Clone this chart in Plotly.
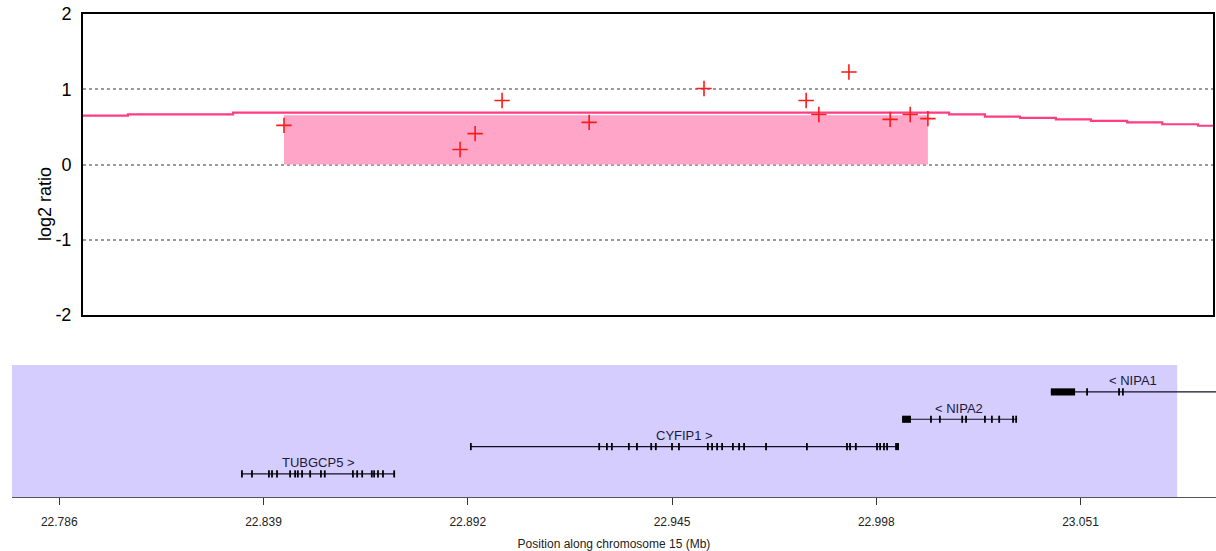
import plotly.graph_objects as go

# ---------------- data ----------------
# probe measurements (position in Mb, log2 ratio)
probe_pos = [22.8443, 22.8900, 22.8939, 22.9009, 22.9235, 22.9533,
             22.9798, 22.9831, 22.9909, 23.0016, 23.0068, 23.0114]
probe_log2 = [0.52, 0.20, 0.41, 0.85, 0.56, 1.01,
              0.85, 0.665, 1.23, 0.60, 0.665, 0.61]

# segmented (smoothed) log2 ratio, step line
seg_start = [22.770, 22.8038, 22.8311, 23.0169, 23.0262, 23.0353,
             23.0446, 23.0537, 23.0631, 23.0722, 23.0815]
seg_value = [0.65, 0.665, 0.69, 0.665, 0.635, 0.62,
             0.60, 0.58, 0.56, 0.535, 0.515]
seg_last_end = 23.10

# called aberration (filled)
call_start = 22.8443
call_end = 23.0114
call_value = 0.655

# highlighted genomic region in gene track
region_start = 22.7737
region_end = 23.0761

# genes
gene_names = ["TUBGCP5", "CYFIP1", "NIPA2", "NIPA1"]
gene_strand = ["+", "+", "-", "-"]
gene_row = [0, 1, 2, 3]
gene_start = [22.8334, 22.8928, 23.0047, 23.0433]
gene_end = [22.8729, 23.0039, 23.0343, 23.0950]
gene_exons = [
    [22.8334, 22.8360, 22.8404, 22.8412, 22.8425, 22.8459, 22.8472, 22.8479,
     22.8490, 22.8511, 22.8539, 22.8549, 22.8622, 22.8633, 22.8646, 22.8671,
     22.8677, 22.8687, 22.8700, 22.8729],
    [22.8928, 22.9261, 22.9281, 22.9294, 22.9338, 22.9359, 22.9396, 22.9408,
     22.9450, 22.9468, 22.9543, 22.9554, 22.9567, 22.9580, 22.9608, 22.9624,
     22.9637, 22.9694, 22.9800, 22.9904, 22.9912, 22.9927, 22.9982, 22.9990,
     23.0000, 23.0008],
    [23.0122, 23.0145, 23.0203, 23.0213, 23.0262, 23.0280, 23.0299, 23.0335,
     23.0343],
    [23.0527, 23.0610, 23.0620],
]
gene_blocks = [
    [],
    [(23.0029, 23.0039)],
    [(23.0047, 23.0070)],
    [(23.0433, 23.0496)],
]

x_ticks = [22.786, 22.839, 22.892, 22.945, 22.998, 23.051]
y_ticks = [-2, -1, 0, 1, 2]
y_tick_labels = ["-2", "-1", "0", "1", "2"]

# ---------------- layout constants ----------------
W, H = 1216, 551
FONT = "Liberation Sans, Arial, Helvetica, sans-serif"
top_x_range = [22.79215, 23.08538]
bot_x_range = [22.77373, 23.08616]
row_y0, row_dy = 0.175, 0.207
exon_h = 0.027
label_dy = 0.085

fig = go.Figure()

# filled call
fig.add_trace(go.Scatter(
    x=[call_start, call_start, call_end, call_end],
    y=[0, call_value, call_value, 0],
    fill="toself", fillcolor="#ffa6c8", line=dict(width=0),
    mode="lines", hoverinfo="skip", showlegend=False,
    xaxis="x", yaxis="y"))

# segment step line
fig.add_trace(go.Scatter(
    x=seg_start + [seg_last_end], y=seg_value + [seg_value[-1]],
    mode="lines", line=dict(color="#ff3d84", width=2.2, shape="hv"),
    showlegend=False, xaxis="x", yaxis="y"))

# probes
fig.add_trace(go.Scatter(
    x=probe_pos, y=probe_log2, mode="markers",
    marker=dict(symbol="cross-thin", size=11,
                line=dict(color="#ff1a1a", width=1.6)),
    showlegend=False, xaxis="x", yaxis="y"))

shapes = []
annotations = []

# region background in gene track
shapes.append(dict(type="rect", xref="x2", yref="y2",
                   x0=region_start, x1=region_end, y0=0, y1=1,
                   fillcolor="#d5cdfd", line=dict(width=0), layer="below"))

# genes
for i, name in enumerate(gene_names):
    yrow = row_y0 + gene_row[i] * row_dy
    fig.add_trace(go.Scatter(
        x=[gene_start[i], gene_end[i]], y=[yrow, yrow], mode="lines",
        line=dict(color="#111122", width=1.2), showlegend=False,
        xaxis="x2", yaxis="y2", hoverinfo="skip"))
    ex, ey = [], []
    for e in gene_exons[i]:
        ex += [e, e, None]
        ey += [yrow - exon_h, yrow + exon_h, None]
    fig.add_trace(go.Scatter(
        x=ex, y=ey, mode="lines", line=dict(color="#000000", width=1.8),
        showlegend=False, xaxis="x2", yaxis="y2", hoverinfo="skip"))
    for b0, b1 in gene_blocks[i]:
        shapes.append(dict(type="rect", xref="x2", yref="y2",
                           x0=b0, x1=b1, y0=yrow - exon_h, y1=yrow + exon_h,
                           fillcolor="#000000", line=dict(width=0)))
    vis_end = min(gene_end[i], bot_x_range[1])
    label = f"{name} >" if gene_strand[i] == "+" else f"< {name}"
    annotations.append(dict(
        x=(gene_start[i] + vis_end) / 2, y=yrow + label_dy,
        xref="x2", yref="y2", text=label, showarrow=False,
        font=dict(family=FONT, size=13, color="#1a1a3a")))

# y axis title
annotations.append(dict(
    x=33 / W, y=1 - 165 / H, xref="paper", yref="paper",
    text="log2 ratio", textangle=-90, showarrow=False,
    font=dict(family=FONT, size=18, color="#000000")))

fig.update_layout(
    width=W, height=H,
    margin=dict(l=0, r=0, t=0, b=0, autoexpand=False),
    paper_bgcolor="white", plot_bgcolor="white",
    font=dict(family=FONT),
    shapes=shapes, annotations=annotations,
    xaxis=dict(domain=[83 / W, 1213 / W], range=top_x_range,
               anchor="y", showticklabels=False, ticks="", automargin=False,
               showgrid=False, zeroline=False,
               showline=True, mirror=True, linewidth=2, linecolor="black"),
    yaxis=dict(domain=[1 - 315 / H, 1 - 14 / H], range=[-2, 2],
               anchor="x", tickmode="array", tickvals=y_ticks,
               ticktext=y_tick_labels, ticks="", ticklabelstandoff=6,
               automargin=False,
               tickfont=dict(family=FONT, size=18, color="black"),
               showgrid=True, gridcolor="#9a9a9a", gridwidth=1.5,
               griddash="dot", zeroline=False,
               showline=True, mirror=True, linewidth=2, linecolor="black"),
    xaxis2=dict(domain=[12 / W, 1], range=bot_x_range, anchor="y2",
                tickmode="array", tickvals=x_ticks, automargin=False,
                ticktext=[f"{v:.3f}" for v in x_ticks],
                ticks="outside", ticklen=7, tickcolor="#333333",
                ticklabelstandoff=7,
                tickfont=dict(family=FONT, size=12, color="#222222"),
                showgrid=False, zeroline=False,
                showline=True, linecolor="#555555", linewidth=1,
                title=dict(text="Position along chromosome 15 (Mb)",
                           font=dict(family=FONT, size=12, color="#222222"),
                           standoff=12)),
    yaxis2=dict(domain=[1 - 497 / H, 1 - 365 / H], range=[0, 1],
                anchor="x2", visible=False, fixedrange=True,
                automargin=False),
)

fig.write_html(
    "out.html",
    config={"displayModeBar": False},
    post_script="document.body.style.margin='0';"
                "document.body.style.overflow='hidden';",
)
